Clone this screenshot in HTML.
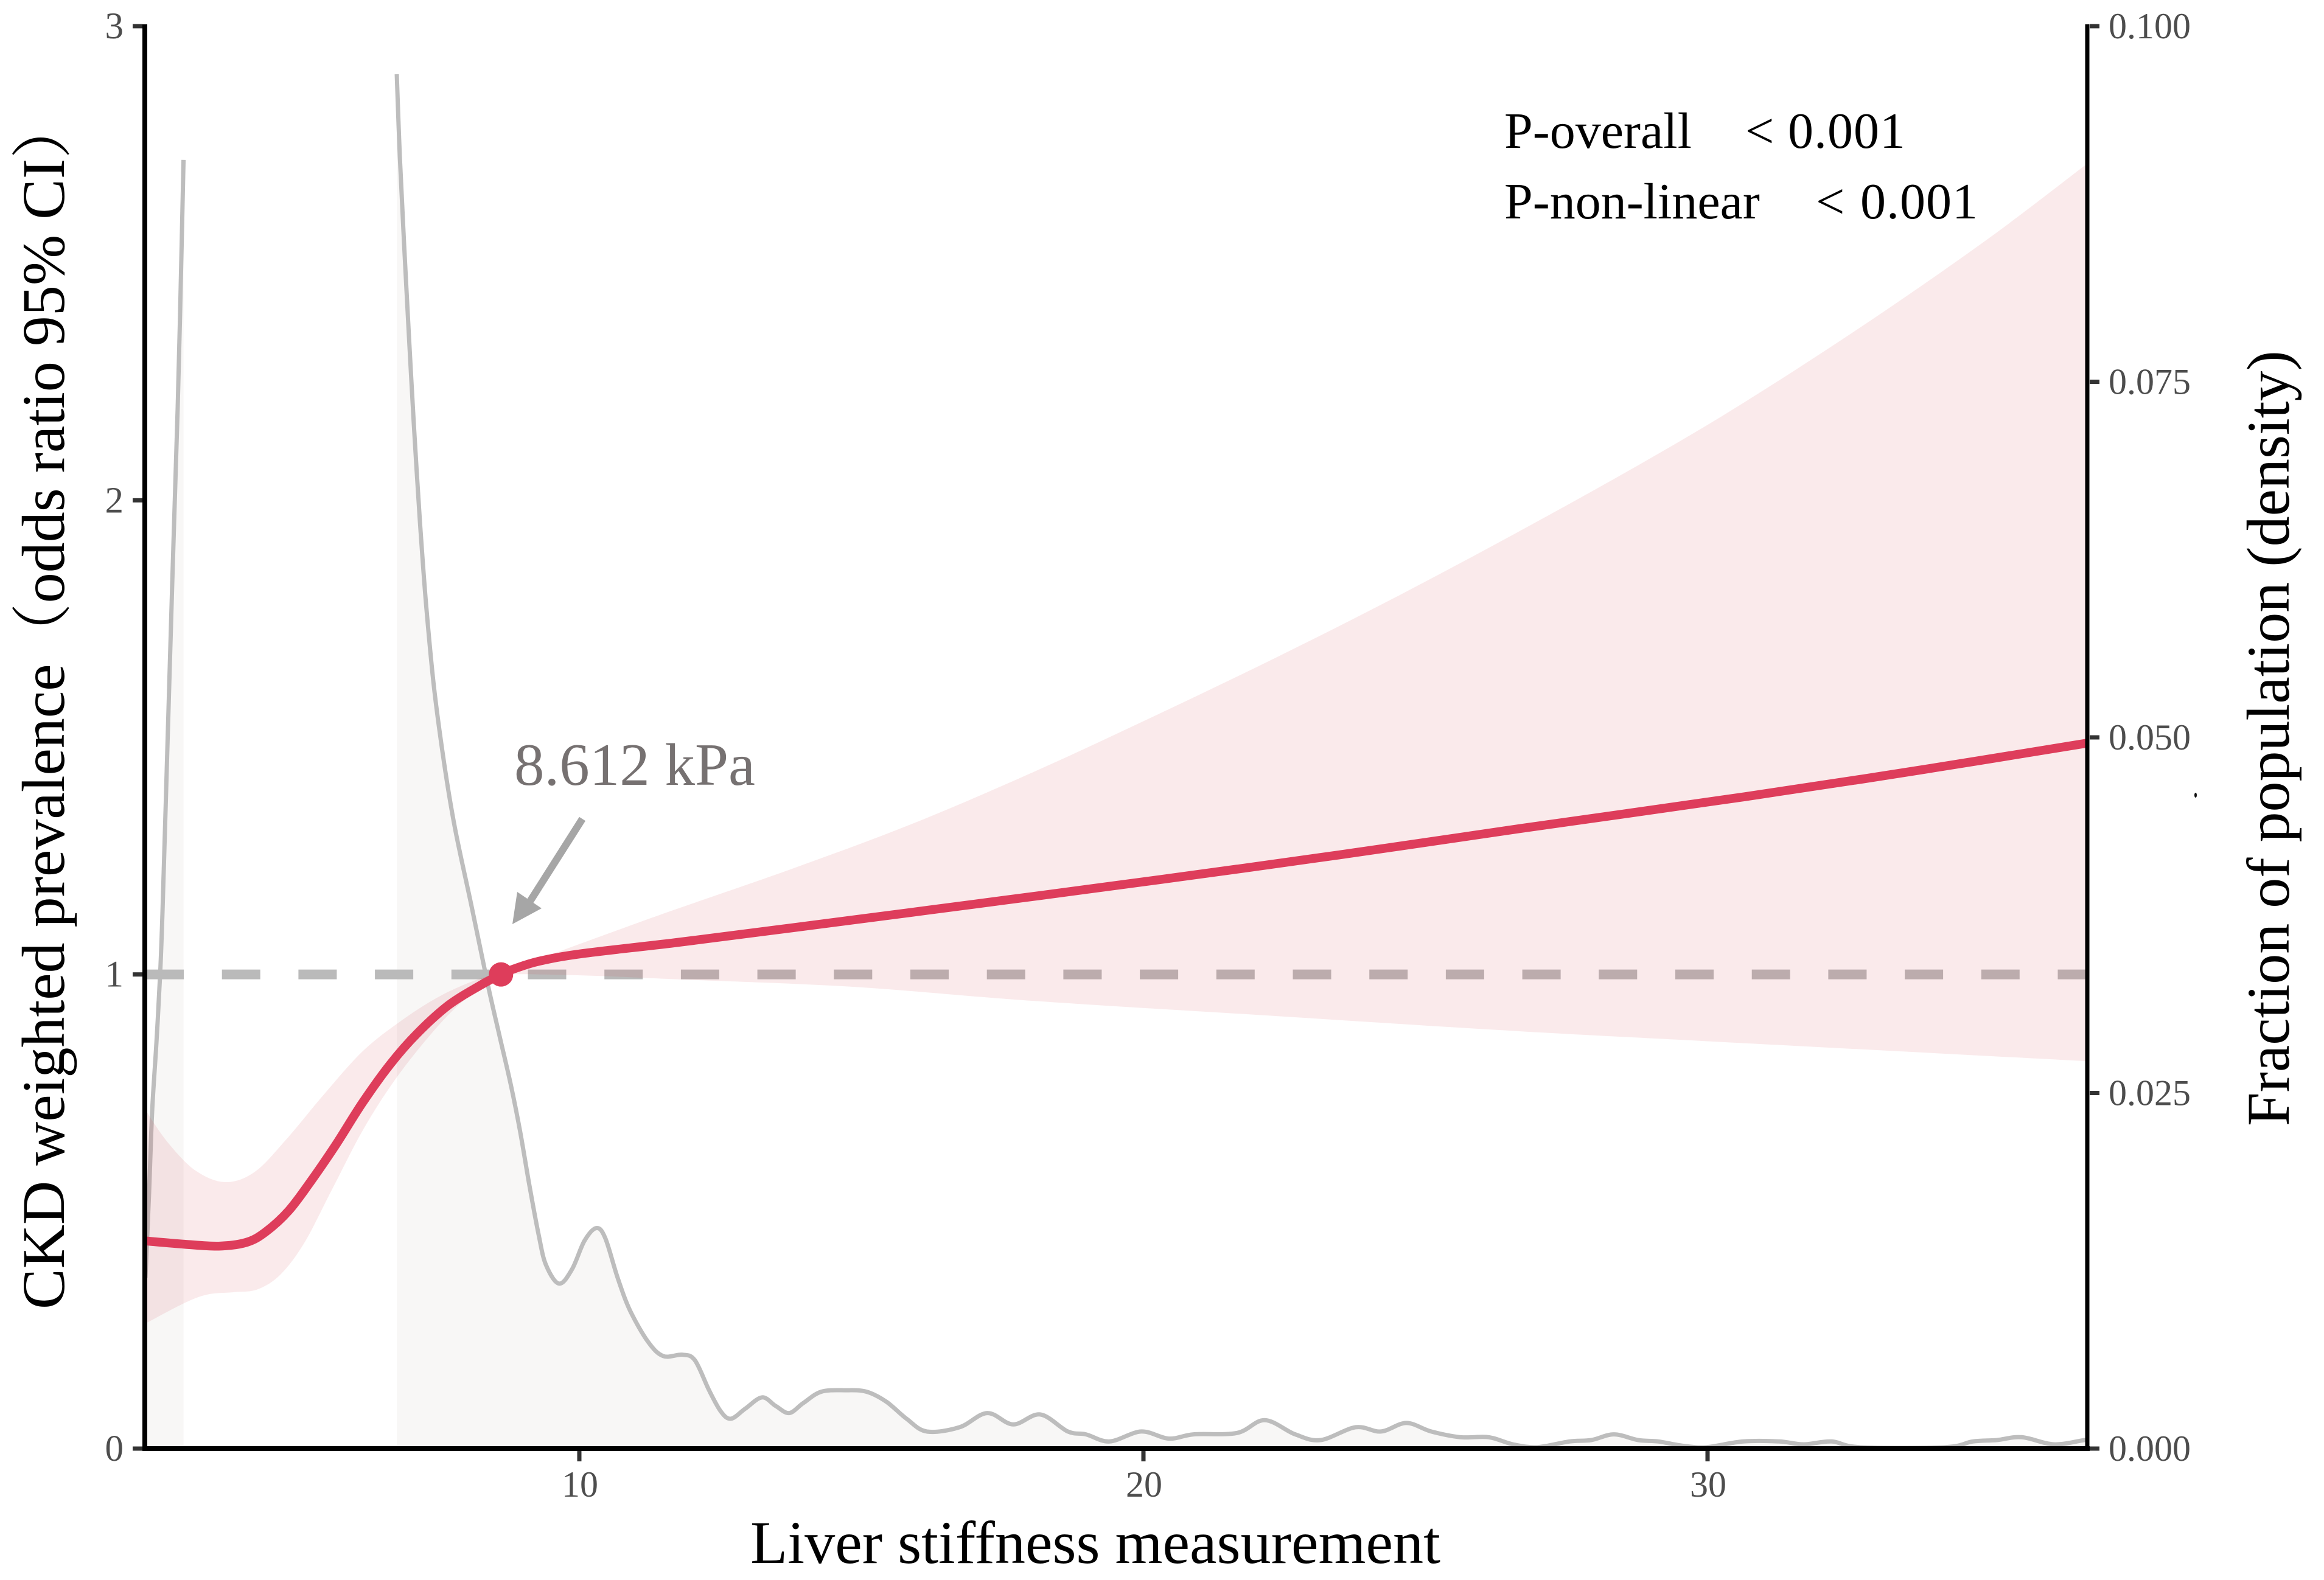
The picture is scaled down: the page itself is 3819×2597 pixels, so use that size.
<!DOCTYPE html>
<html lang="en">
<head>
<meta charset="utf-8">
<title>CKD weighted prevalence vs liver stiffness</title>
<style>
html,body{margin:0;padding:0;background:#fff;}
svg{display:block;}
text{font-family:"Liberation Serif","Noto Serif CJK SC",serif;}
</style>
</head>
<body>
<svg id="chart" xmlns="http://www.w3.org/2000/svg" width="3819" height="2597" viewBox="0 0 3819 2597">
  <defs>
    <clipPath id="plot-clip"><rect x="238" y="43" width="3192" height="2338"></rect></clipPath>
  </defs>
  <rect x="0" y="0" width="3819" height="2597" fill="#ffffff"></rect>
  <g id="marks" clip-path="url(#plot-clip)"></g>
  <g id="axes"></g>

  <text transform="translate(105,2152) rotate(-90)" font-size="100" fill="#000">CKD weighted prevalence（odds ratio 95% CI）</text>
  <text transform="translate(3761,1851) rotate(-90)" font-size="100" fill="#000">Fraction of population (density)</text>
  <text x="1233" y="2569" font-size="100" textLength="1134" lengthAdjust="spacingAndGlyphs" fill="#000">Liver stiffness measurement</text>

  <text font-size="84" fill="#000" y="243"><tspan x="2472">P-overall</tspan><tspan x="2868">&lt;</tspan><tspan x="2938" letter-spacing="1">0.001</tspan></text>
  <text font-size="84" fill="#000" y="359"><tspan x="2472">P-non-linear</tspan><tspan x="2984">&lt;</tspan><tspan x="3057" letter-spacing="1">0.001</tspan></text>

  <text x="845" y="1290" font-size="99" fill="#767171">8.612 kPa</text>
  <g>
    <line x1="957" y1="1346" x2="870" y2="1483" stroke="#A6A6A6" stroke-width="12"></line>
    <polygon points="842,1519 850,1466 890,1493" fill="#A6A6A6"></polygon>
  </g>
  <ellipse cx="3608" cy="1307" rx="2" ry="4" fill="#111"></ellipse>
</svg>
<script>
// Odds ratio spline (kPa, odds ratio)
const midX = [2.31,3.00,3.61,4.10,4.44,4.85,5.26,5.69,6.16,6.65,7.13,7.68,8.23,8.61,8.85,9.29,10.05,11.70,13.75,16.99,20.23,23.46,26.70,30.67,33.71,36.73];
const midOR = [0.438,0.431,0.427,0.435,0.457,0.502,0.567,0.642,0.730,0.811,0.876,0.935,0.976,1.000,1.012,1.028,1.044,1.067,1.098,1.148,1.199,1.252,1.308,1.375,1.430,1.488];

// Upper 95% CI
const upperX = [2.31,2.38,2.73,3.20,3.72,4.24,4.79,5.48,6.16,6.85,7.54,8.23,8.61,8.85,9.50,10.60,11.70,13.75,15.91,18.07,20.23,22.38,24.54,26.70,28.86,30.67,32.90,34.99,36.73];
const upperOR = [0.720,0.701,0.642,0.586,0.562,0.583,0.650,0.748,0.838,0.903,0.955,0.991,1.000,1.012,1.042,1.090,1.137,1.222,1.318,1.428,1.547,1.670,1.800,1.937,2.080,2.208,2.380,2.553,2.710];

// Lower 95% CI
const lowerX = [2.31,2.36,3.00,3.41,3.89,4.30,4.71,5.13,5.61,6.16,6.71,7.34,7.89,8.44,8.61,10.05,11.70,14.83,18.07,22.38,26.70,30.67,36.73];
const lowerOR = [0.263,0.267,0.307,0.325,0.330,0.336,0.368,0.435,0.545,0.671,0.774,0.870,0.939,0.988,1.000,0.998,0.990,0.974,0.944,0.912,0.880,0.855,0.817];

// Density: rising spike on the far left
const spikeX = [2.308,2.373,2.427,2.503,2.568,2.611,2.697,2.783,2.880,2.923,2.950,2.984];
const spikeDensity = [0.0120,0.0180,0.0237,0.0285,0.0333,0.0377,0.0492,0.0608,0.0732,0.0799,0.0846,0.0906];

// Density: main tail
const tailX = [6.764,6.818,6.893,6.980,7.066,7.174,7.282,7.422,7.605,7.799,8.091,8.382,8.58,8.79,8.95,9.12,9.28,9.41,9.64,9.87,10.09,10.30,10.46,10.68,10.90,11.22,11.49,11.83,12.05,12.30,12.51,12.69,12.94,13.24,13.48,13.72,13.97,14.29,14.72,15.09,15.44,15.80,16.16,16.74,17.23,17.69,18.17,18.66,18.98,19.40,19.96,20.45,20.89,21.66,22.15,22.69,23.14,23.76,24.21,24.66,25.10,25.62,26.12,26.55,26.98,27.55,27.94,28.34,28.77,29.13,29.56,29.98,30.63,31.27,31.70,32.20,32.70,34.21,34.70,35.13,35.57,36.14,36.68,36.73];
const tailDensity = [0.09662,0.09085,0.08471,0.07821,0.07205,0.06520,0.05943,0.05359,0.04814,0.04354,0.03811,0.03255,0.0291,0.0255,0.0223,0.0184,0.0150,0.0129,0.0116,0.0126,0.0146,0.0155,0.0148,0.0120,0.0097,0.0075,0.0065,0.0066,0.0062,0.0041,0.0026,0.0021,0.0028,0.0036,0.0030,0.0025,0.0032,0.0040,0.0041,0.0040,0.0033,0.0021,0.0012,0.0015,0.0025,0.0017,0.0024,0.0012,0.0010,0.0005,0.0012,0.0007,0.0010,0.0011,0.0020,0.0010,0.0006,0.0015,0.0012,0.0018,0.0012,0.0008,0.0008,0.0003,0.0001,0.0005,0.0006,0.0010,0.0006,0.0005,0.0002,0.0001,0.0005,0.0005,0.0003,0.0005,0.0001,0.0001,0.0005,0.0006,0.0008,0.0003,0.0006,0.0006];

// Reference values and tick labels
const referenceOR = [1];
const inflectionX = [8.612];
const inflectionOR = [1];
const xTickValues = [10,20,30];
const xTickLabels = ['10','20','30'];
const leftTickValues = [0,1,2,3];
const leftTickLabels = ['0','1','2','3'];
const rightTickValues = [0,0.025,0.05,0.075,0.1];
const rightTickLabels = ['0.000','0.025','0.050','0.075','0.100'];

const SVG_NS = 'http://www.w3.org/2000/svg';
const plot = {left:239, right:3430, top:43, bottom:2381};
function xScale(v){ return 952 + (v - 10) * 92.7; }
function yLeft(v){ return plot.bottom - v * (plot.bottom - plot.top) / 3; }
function yRight(v){ return plot.bottom - v * (plot.bottom - plot.top) / 0.1; }

function smoothSegments(pts){
  let d = '';
  for(let i = 0; i < pts.length - 1; i++){
    const p0 = pts[Math.max(i-1,0)], p1 = pts[i], p2 = pts[i+1], p3 = pts[Math.min(i+2,pts.length-1)];
    const c1x = p1[0] + (p2[0]-p0[0])/6, c1y = p1[1] + (p2[1]-p0[1])/6;
    const c2x = p2[0] - (p3[0]-p1[0])/6, c2y = p2[1] - (p3[1]-p1[1])/6;
    d += 'C' + c1x.toFixed(1) + ' ' + c1y.toFixed(1) + ' ' + c2x.toFixed(1) + ' ' + c2y.toFixed(1) + ' ' + p2[0].toFixed(1) + ' ' + p2[1].toFixed(1);
  }
  return d;
}
function toPoints(xs, ys, yf){ return xs.map(function(x,i){ return [xScale(x), yf(ys[i])]; }); }
function pathOpen(pts){ return 'M' + pts[0][0].toFixed(1) + ' ' + pts[0][1].toFixed(1) + smoothSegments(pts); }
function pathUnder(pts){
  return pathOpen(pts) + 'L' + pts[pts.length-1][0].toFixed(1) + ' ' + plot.bottom + 'L' + pts[0][0].toFixed(1) + ' ' + plot.bottom + 'Z';
}
function make(tag, parent, attrs){
  const el = document.createElementNS(SVG_NS, tag);
  Object.keys(attrs).forEach(function(k){ el.setAttribute(k, attrs[k]); });
  parent.appendChild(el);
  return el;
}

const marks = document.getElementById('marks');
const axes = document.getElementById('axes');

// Density fills
const spikePts = toPoints(spikeX, spikeDensity, yRight);
const tailPts = toPoints(tailX, tailDensity, yRight);
const spikeFill = make('path', marks, {d: pathUnder(spikePts), fill:'#F8F7F6'});


const tailFill = make('path', marks, {d: pathUnder(tailPts), fill:'#F8F7F6'});



// Density lines
const spikeLine = make('path', marks, {d: pathOpen(spikePts), fill:'none', stroke:'#BDBDBD', 'stroke-width':7});


const tailLine = make('path', marks, {d: pathOpen(tailPts), fill:'none', stroke:'#BDBDBD', 'stroke-width':7});



// Reference line at odds ratio 1
const refLine = make('line', marks, {x1:plot.left, x2:plot.right, y1:yLeft(referenceOR[0]), y2:yLeft(referenceOR[0]), stroke:'#BABABA', 'stroke-width':16, 'stroke-dasharray':'63 62.7'});



// Confidence ribbon
const upperPts = toPoints(upperX, upperOR, yLeft);
const lowerPts = toPoints(lowerX, lowerOR, yLeft).reverse();
const ribbonPath = pathOpen(upperPts) + 'L' + lowerPts[0][0].toFixed(1) + ' ' + lowerPts[0][1].toFixed(1) + smoothSegments(lowerPts) + 'Z';
const ribbon = make('path', marks, {d: ribbonPath, fill:'#D24049', 'fill-opacity':0.11});



// Spline
const midPts = toPoints(midX, midOR, yLeft);
const midLine = make('path', marks, {d: pathOpen(midPts), fill:'none', stroke:'#DE3D5B', 'stroke-width':14.5});



// Inflection point
const inflectionDot = make('circle', marks, {cx:xScale(inflectionX[0]), cy:yLeft(inflectionOR[0]), r:20, fill:'#DE3D5B'});



// Axis lines
const axisLeft = make('line', axes, {x1:238, x2:238, y1:40, y2:2385, stroke:'#000', 'stroke-width':8});


const axisRight = make('line', axes, {x1:3430, x2:3430, y1:40, y2:2385, stroke:'#000', 'stroke-width':7});


const axisBottom = make('line', axes, {x1:234, x2:3434, y1:2381, y2:2381, stroke:'#000', 'stroke-width':8});



// Left ticks
leftTickValues.forEach(function(v,i){
  const y = yLeft(v);
  const t = make('line', axes, {x1:218, x2:234, y1:y, y2:y, stroke:'#333', 'stroke-width':7});
  
  
  const l = make('text', axes, {x:203, y:y+20, 'text-anchor':'end', 'font-size':61, fill:'#4D4D4D'});
  l.textContent = leftTickLabels[i];
  
  
});

// Right ticks
rightTickValues.forEach(function(v,i){
  const y = yRight(v);
  const t = make('line', axes, {x1:3434, x2:3450, y1:y, y2:y, stroke:'#333', 'stroke-width':7});
  
  
  const l = make('text', axes, {x:3465, y:y+20, 'font-size':60, fill:'#4D4D4D'});
  l.textContent = rightTickLabels[i];
  
  
});

// X ticks
xTickValues.forEach(function(v,i){
  const x = xScale(v);
  const t = make('line', axes, {x1:x, x2:x, y1:2385, y2:2402, stroke:'#333', 'stroke-width':7});
  
  
  const l = make('text', axes, {x:x+1, y:2460, 'text-anchor':'middle', 'font-size':60, fill:'#4D4D4D'});
  l.textContent = xTickLabels[i];
  
  
});
</script>
</body>
</html>
